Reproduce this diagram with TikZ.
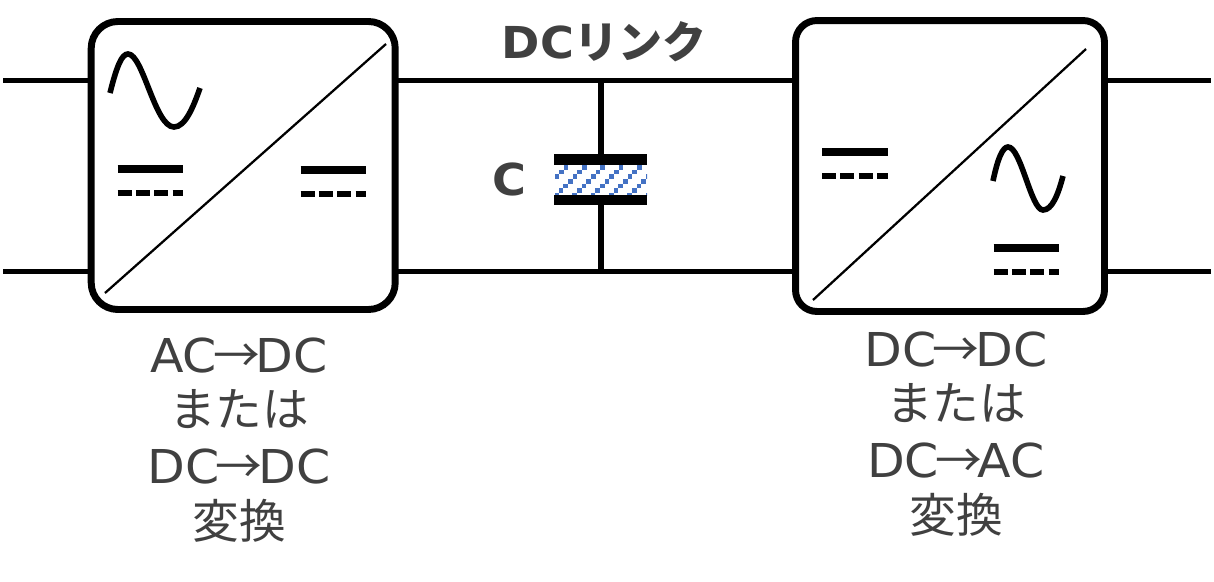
\documentclass[tikz,border=0pt]{standalone}
\usepackage{fontspec}
\setmainfont{DejaVu Sans}[FakeStretch=1.05]
\newfontfamily\cjk{Noto Sans CJK JP}
\definecolor{txt}{HTML}{404040}
\definecolor{hatch}{HTML}{4472C4}
\newcommand{\ar}{{\cjk\kern-3pt →\kern-3pt}}
\tikzset{
  conv/.style={draw=black,line width=5.2pt,rounded corners=20pt,fill=white,inner sep=0pt,outer sep=0pt},
  wire/.style={draw=black,line width=3.75pt},
  diag/.style={draw=black,line width=1.7pt},
  solidbar/.style={draw=black,line width=5.5pt},
  dashbar/.style={draw=black,line width=3.8pt,dash pattern=on 10.5pt off 3.25pt},
  sine/.style={draw=black,line width=4.2pt},
  plate/.style={draw=black,line width=7.8pt},
  lbl/.style={text=txt,font=\fontsize{35pt}{42.75pt}\selectfont,align=center,inner sep=0pt},
  bold/.style={text=txt,font=\bfseries\fontsize{33pt}{36pt}\selectfont,inner sep=0pt}
}
\begin{document}
\begin{tikzpicture}[x=0.75pt,y=-0.75pt]
\useasboundingbox (0,0) rectangle (1214,582);
% wires
\coordinate (l1) at (3,80); \coordinate (l2) at (3,271);
\coordinate (r1) at (1211,80); \coordinate (r2) at (1211,271);
\coordinate (jt) at (601,80); \coordinate (jb) at (601,271);
\draw[wire] (l1) -- (r1);
\draw[wire] (l2) -- (r2);
\node[conv,minimum width=228pt,minimum height=216pt] (lbox) at (243.2,165.5) {};
\node[conv,minimum width=231.7pt,minimum height=218.2pt,rounded corners=16pt] (rbox) at (950,166) {};
% capacitor hatch
\begin{scope}
\clip (555,164) rectangle (647,195);
\foreach \d in {0,...,8}{
  \foreach \k in {0,...,12}{
    \fill[hatch] ({559.3+\d*18.33-\k*4.67},{151+\k*4.67}) rectangle ++(4.67,4.67);
  }
}
\end{scope}
\coordinate (pt1) at (554,159.5); \coordinate (pt2) at (647,159.5);
\coordinate (pb1) at (554,200); \coordinate (pb2) at (647,200);
\coordinate (pt) at (601,159.5); \coordinate (pb) at (601,200);
\draw[wire,line width=4.5pt] (jt) -- (pt);
\draw[wire,line width=4.5pt] (pb) -- (jb);
\draw[plate] (pt1) -- (pt2);
\draw[plate] (pb1) -- (pb2);
% left box symbols
\draw[diag] (105,293) -- (386,44);
\draw[sine] (110,93) .. controls (117,65) and (122,54) .. (128,54) .. controls (143,54) and (155,127) .. (174,127) .. controls (185,127) and (193,108) .. (200,88);
\draw[solidbar] (117.5,169) -- (183,169);
\draw[dashbar] (117.5,193) -- (183,193);
\draw[solidbar] (300.5,170) -- (366,170);
\draw[dashbar] (300.5,194) -- (366,194);
% right box symbols
\draw[diag] (813,300) -- (1086,49);
\draw[solidbar] (822,152) -- (888,152);
\draw[dashbar] (822,176) -- (888,176);
\draw[sine] (993,181) .. controls (998,157) and (1003,147) .. (1008,147) .. controls (1021,147) and (1031,210) .. (1043,210) .. controls (1052,210) and (1058,195) .. (1063,176);
\draw[solidbar] (993.5,248) -- (1059,248);
\draw[dashbar] (993.5,272) -- (1059,272);
% labels
\node[bold] (dclink) at (604,42) {DC{\cjk リンク}};
\node[bold] (clabel) at (509,179) {C};
\node[lbl] (ltext) at (239,440.5) {AC\ar DC\\[-2.25pt]{\cjk または}\\DC\ar DC\\[-1.5pt]{\cjk 変換}};
\node[lbl] (rtext) at (956,434.5) {DC\ar DC\\[-2.25pt]{\cjk または}\\DC\ar AC\\[-1.5pt]{\cjk 変換}};
\end{tikzpicture}
\end{document}
